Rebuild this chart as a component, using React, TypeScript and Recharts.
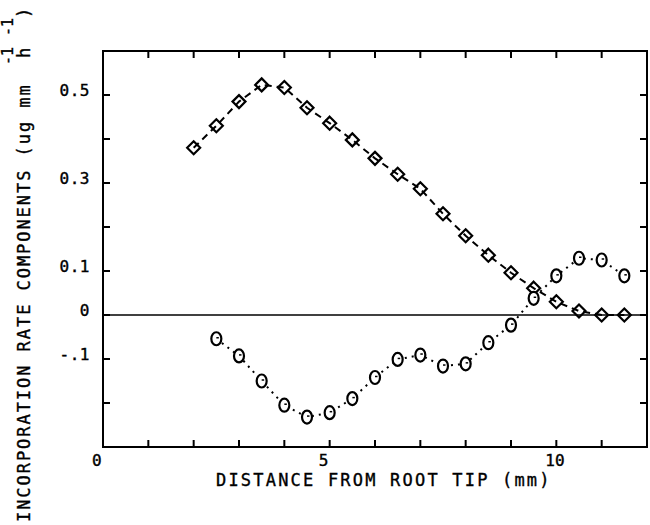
import { LineChart, Line, XAxis, YAxis, ReferenceLine, ReferenceArea } from 'recharts'

// distance from root tip (mm) and rate components
const diamondX = [2, 2.5, 3, 3.5, 4, 4.5, 5, 5.5, 6, 6.5, 7, 7.5, 8, 8.5, 9, 9.5, 10, 10.5, 11, 11.5]
const diamondY = [0.38, 0.43, 0.485, 0.523, 0.517, 0.471, 0.436, 0.398, 0.356, 0.32, 0.287, 0.23, 0.18, 0.136, 0.096, 0.061, 0.03, 0.009, 0.0, 0.0]

const circleX = [2.5, 3, 3.5, 4, 4.5, 5, 5.5, 6, 6.5, 7, 7.5, 8, 8.5, 9, 9.5, 10, 10.5, 11, 11.5]
const circleY = [-0.054, -0.093, -0.15, -0.205, -0.232, -0.222, -0.19, -0.142, -0.101, -0.091, -0.116, -0.111, -0.063, -0.023, 0.038, 0.089, 0.129, 0.125, 0.089]

const xTicks = [0, 1, 2, 3, 4, 5, 6, 7, 8, 9, 10, 11, 12]
const xLabelValues = [0, 5, 10]
const xLabelText = ['0', '5', '10']

const yTicks = [-0.3, -0.2, -0.1, 0, 0.1, 0.2, 0.3, 0.4, 0.5, 0.6]
const yLabelValues = [0.5, 0.3, 0.1, 0, -0.1]
const yLabelText = ['0.5', '0.3', '0.1', '0', '-.1']

const diamondData = diamondX.map((x, i) => ({ x, y: diamondY[i] }))
const circleData = circleX.map((x, i) => ({ x, y: circleY[i] }))

const FONT = '"DejaVu Sans Mono", monospace'
const INK = '#000'
const TICK = 7

const BottomTick = (props: any) => {
  const { x, y, payload } = props
  const i = xLabelValues.indexOf(payload.value)
  return (
    <g>
      <line x1={x} x2={x} y1={y} y2={y - TICK} stroke={INK} strokeWidth={2} />
      {i >= 0 && (
        <text x={x - 11} y={y + 19} textAnchor="start" fontFamily={FONT} fontSize={16} fill={INK} stroke={INK} strokeWidth={0.4}>
          {xLabelText[i]}
        </text>
      )}
    </g>
  )
}

const TopTick = (props: any) => {
  const { x, y } = props
  return <line x1={x} x2={x} y1={y} y2={y + TICK} stroke={INK} strokeWidth={2} />
}

const LeftTick = (props: any) => {
  const { x, y, payload } = props
  const i = yLabelValues.indexOf(payload.value)
  return (
    <g>
      <line x1={x} x2={x + TICK} y1={y} y2={y} stroke={INK} strokeWidth={2} />
      {i >= 0 && (
        <text x={x - 13} y={y + 1} textAnchor="end" fontFamily={FONT} fontSize={16} letterSpacing={0.5} fill={INK} stroke={INK} strokeWidth={0.4}>
          {yLabelText[i]}
        </text>
      )}
    </g>
  )
}

const RightTick = (props: any) => {
  const { x, y } = props
  return <line x1={x} x2={x - TICK} y1={y} y2={y} stroke={INK} strokeWidth={2} />
}

const renderDiamond = (p: any) => {
  const { cx, cy, index } = p
  const s = 6.5
  return (
    <polygon
      key={`d-${index}`}
      points={`${cx},${cy - s} ${cx + s},${cy} ${cx},${cy + s} ${cx - s},${cy}`}
      fill="none"
      stroke={INK}
      strokeWidth={2.2}
    />
  )
}

const renderCircle = (p: any) => {
  const { cx, cy, index } = p
  return (
    <g key={`c-${index}`}>
      <ellipse cx={cx} cy={cy} rx={5} ry={6.5} fill="#fff" stroke={INK} strokeWidth={2.2} />
      <line x1={cx} x2={cx + 2.5} y1={cy - 1} y2={cy - 1} stroke={INK} strokeWidth={1.5} />
    </g>
  )
}

const titleText = { fontFamily: FONT, fill: INK, stroke: INK, strokeWidth: 0.35 }

export default function App() {
  return (
    <div style={{ position: 'absolute', left: 0, top: 0, width: 650, height: 525, background: '#fff' }}>
      <LineChart width={650} height={525} margin={{ top: 50, right: 2, bottom: 0, left: 0 }}>
        <XAxis
          dataKey="x"
          type="number"
          domain={[0, 12]}
          ticks={xTicks}
          height={78}
          tickSize={0}
          tickMargin={0}
          tickLine={false}
          tick={BottomTick}
          axisLine={{ stroke: INK, strokeWidth: 2 }}
          interval={0}
        />
        <XAxis
          xAxisId="top"
          dataKey="x"
          orientation="top"
          type="number"
          domain={[0, 12]}
          ticks={xTicks}
          height={1}
          tickSize={0}
          tickMargin={0}
          tickLine={false}
          tick={TopTick}
          axisLine={false}
          interval={0}
        />
        <YAxis
          type="number"
          domain={[-0.3, 0.6]}
          ticks={yTicks}
          width={103}
          tickSize={0}
          tickMargin={0}
          tickLine={false}
          tick={LeftTick}
          axisLine={{ stroke: INK, strokeWidth: 2 }}
          interval={0}
        />
        <YAxis
          yAxisId="right"
          orientation="right"
          type="number"
          domain={[-0.3, 0.6]}
          ticks={yTicks}
          width={1}
          tickSize={0}
          tickMargin={0}
          tickLine={false}
          tick={RightTick}
          axisLine={false}
          interval={0}
        />
        {/* plot frame */}
        <ReferenceArea x1={0} x2={12} y1={-0.3} y2={0.6} fill="none" fillOpacity={0} stroke={INK} strokeWidth={2} ifOverflow="visible" />
        <ReferenceLine y={0} stroke={INK} strokeWidth={1.6} />
        {/* invisible copy bound to the mirrored axes so they get drawn */}
        <Line
          xAxisId="top"
          yAxisId="right"
          data={diamondData}
          dataKey="y"
          stroke="none"
          dot={false}
          activeDot={false}
          legendType="none"
          isAnimationActive={false}
        />
        <Line
          data={diamondData}
          dataKey="y"
          type="linear"
          stroke={INK}
          strokeWidth={2}
          strokeDasharray="7 5"
          dot={renderDiamond}
          isAnimationActive={false}
        />
        <Line
          data={circleData}
          dataKey="y"
          type="linear"
          stroke={INK}
          strokeWidth={2}
          strokeDasharray="2 5"
          dot={renderCircle}
          isAnimationActive={false}
        />
      </LineChart>
      <svg width={650} height={525} style={{ position: 'absolute', left: 0, top: 0, pointerEvents: 'none' }}>
        <text x={216} y={486} fontSize={17} letterSpacing={2.2} {...titleText}>
          DISTANCE FROM ROOT TIP (mm)
        </text>
        <g transform="translate(30, 522) rotate(-90)" {...titleText}>
          <text x={0} y={0} fontSize={17} letterSpacing={1.95}>
            INCORPORATION RATE COMPONENTS (ug mm
          </text>
          <text x={457} y={-17} fontSize={15}>-1</text>
          <text x={464} y={0} fontSize={17}>h</text>
          <text x={486} y={-17} fontSize={15}>-1</text>
          <text x={504} y={0} fontSize={17}>)</text>
        </g>
      </svg>
    </div>
  )
}
